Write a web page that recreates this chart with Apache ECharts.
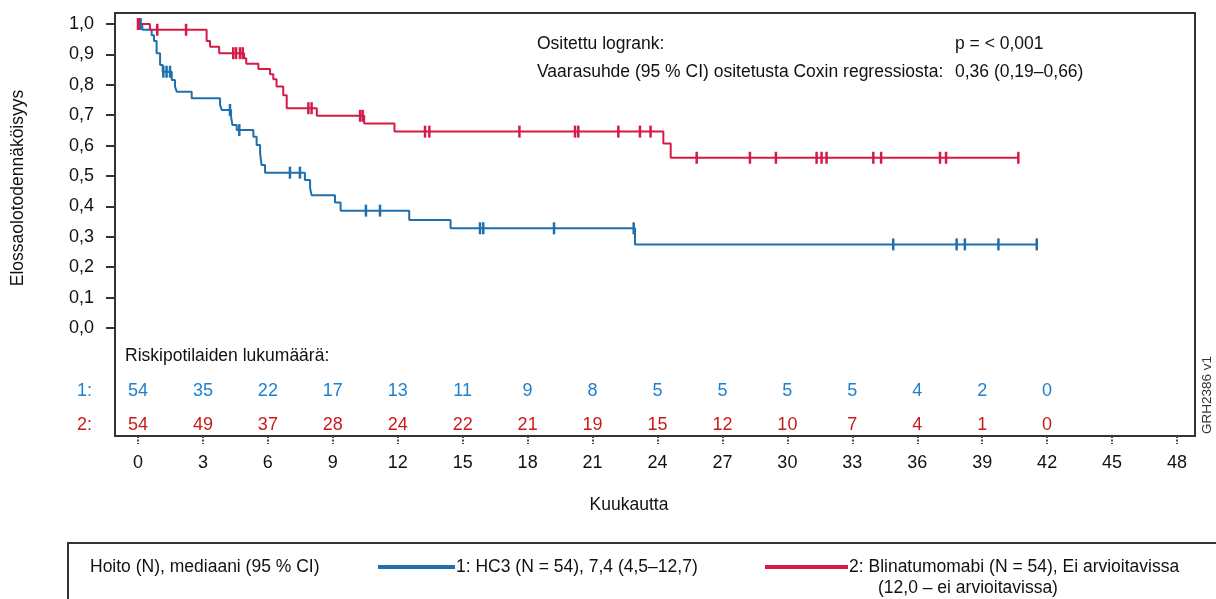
<!DOCTYPE html>
<html>
<head>
<meta charset="utf-8">
<script src="https://cdn.jsdelivr.net/npm/echarts@6/dist/echarts.min.js"></script>
<style>html,body{margin:0;padding:0;background:#fff;}#c{width:1216px;height:599px;}</style>
</head>
<body>
<div id="c"></div>
<script>
// ---- data ----
var xTicks = [0, 3, 6, 9, 12, 15, 18, 21, 24, 27, 30, 33, 36, 39, 42, 45, 48];
var yTicks = [0, 0.1, 0.2, 0.3, 0.4, 0.5, 0.6, 0.7, 0.8, 0.9, 1.0];
var riskMonths = [0, 3, 6, 9, 12, 15, 18, 21, 24, 27, 30, 33, 36, 39, 42];
var risk1 = [54, 35, 22, 17, 13, 11, 9, 8, 5, 5, 5, 5, 4, 2, 0];
var risk2 = [54, 49, 37, 28, 24, 22, 21, 19, 15, 12, 10, 7, 4, 1, 0];

// Kaplan-Meier step points [month, survival] (HC3)
var hc3Curve = [
  [0, 1.0], [0.2, 0.981], [0.63, 0.963], [0.74, 0.944], [0.86, 0.904], [1.02, 0.865],
  [1.14, 0.843], [1.56, 0.816], [1.71, 0.794], [1.79, 0.777], [2.48, 0.756],
  [3.79, 0.734], [3.87, 0.717], [4.3, 0.695], [4.36, 0.668], [4.56, 0.651],
  [5.33, 0.629], [5.48, 0.602], [5.64, 0.575], [5.71, 0.536], [5.87, 0.511],
  [7.71, 0.487], [7.95, 0.46], [8.02, 0.437], [9.10, 0.413], [9.36, 0.386],
  [12.53, 0.355], [14.44, 0.328], [22.96, 0.275], [41.52, 0.275]
];
var hc3Censor = [0.06, 0.12, 1.17, 1.32, 1.48, 4.25, 4.68, 7.02, 7.48, 10.53, 11.18,
  15.8, 15.95, 19.22, 22.9, 34.89, 37.82, 38.2, 39.75, 41.52];

// Kaplan-Meier step points (Blinatumomabi)
var blinaCurve = [
  [0, 1.0], [0.55, 0.981], [3.17, 0.944], [3.33, 0.925], [3.75, 0.904],
  [4.9, 0.887], [5.0, 0.869], [5.56, 0.852], [6.1, 0.835], [6.25, 0.818],
  [6.4, 0.794], [6.71, 0.766], [6.87, 0.723], [8.26, 0.698], [10.45, 0.673],
  [11.85, 0.646], [24.27, 0.607], [24.61, 0.56], [40.67, 0.56]
];
var blinaCensor = [0.0, 0.03, 0.89, 2.22, 4.40, 4.53, 4.71, 4.84, 7.87, 8.02, 10.26, 10.38,
  13.26, 13.46, 17.62, 20.19, 20.34, 22.19, 23.19, 23.68, 25.81, 28.27, 29.47,
  31.35, 31.58, 31.81, 33.97, 34.33, 37.05, 37.33, 40.67];

var seriesNames = ['1: HC3 (N = 54), 7,4 (4,5–12,7)', '2: Blinatumomabi (N = 54), Ei arvioitavissa'];

// ---- styles / layout ----
var BLUE = '#1f6fae', RED = '#d41a46', BLUE_T = '#1f80d0', RED_T = '#cc1a1a';
var FONT = 'Liberation Sans, Arial, sans-serif';
// frame: x 115..1195 px, y 13..436 px; month 0 at 138px, 48 at 1177px; surv 1 at 24px, 0 at 328px
var PX_PER_MONTH = (1177 - 138) / 48, PX_PER_UNIT = 328 - 24;
var X_MIN = -(138 - 115) / PX_PER_MONTH, X_MAX = 48 + (1195 - 1177) / PX_PER_MONTH;
var Y_MAX = 1 + (24 - 13) / PX_PER_UNIT, Y_MIN = -(436 - 328) / PX_PER_UNIT;

function survAt(curve, t) {
  var s = curve[0][1];
  for (var i = 0; i < curve.length; i++) { if (curve[i][0] <= t) s = curve[i][1]; }
  return s;
}
function censorPts(curve, times) { return times.map(function (t) { return [t, survAt(curve, t)]; }); }
function riskPts(vals, row) { return riskMonths.map(function (m, i) { return [m, row, vals[i]]; }); }

var chart = echarts.init(document.getElementById('c'), null, { renderer: 'canvas' });
var txt = function (text, x, y, opt) {
  opt = opt || {};
  return {
    type: 'text', x: x, y: y, rotation: opt.rotation || 0, z: 10,
    style: {
      text: text, fill: opt.color || '#111', font: (opt.size || 17.5) + 'px ' + FONT,
      align: opt.align || 'left', verticalAlign: 'middle',
      textAlign: opt.align || 'left', textVerticalAlign: 'middle'
    }
  };
};

chart.setOption({
  animation: false,
  textStyle: { fontFamily: FONT },
  grid: [
    { left: 115, right: 21, top: 13, bottom: 163, show: true, borderColor: '#333', borderWidth: 2, backgroundColor: 'transparent' },
    { left: 138, right: 39, top: 340, bottom: 163 }
  ],
  xAxis: [
    {
      gridIndex: 0, type: 'value', min: X_MIN, max: X_MAX, position: 'bottom',
      axisLine: { show: false, onZero: false },
      axisTick: { show: true, customValues: xTicks, length: 8, lineStyle: { color: '#444', width: 2, type: [2, 1.5] } },
      axisLabel: { customValues: xTicks, fontSize: 18, color: '#111', margin: 18 },
      splitLine: { show: false }
    },
    { gridIndex: 1, type: 'value', min: 0, max: 48, show: false }
  ],
  yAxis: [
    {
      gridIndex: 0, type: 'value', min: Y_MIN, max: Y_MAX, position: 'left',
      axisLine: { show: false, onZero: false },
      axisTick: { show: true, customValues: yTicks, length: 9, lineStyle: { color: '#333', width: 2 } },
      axisLabel: {
        customValues: yTicks, fontSize: 18, color: '#111', margin: 21,
        formatter: function (v) { return (Math.round(v * 10) / 10).toFixed(1).replace('.', ','); }
      },
      splitLine: { show: false }
    },
    { gridIndex: 1, type: 'value', min: 0, max: 96, inverse: true, show: false }
  ],
  series: [
    {
      name: seriesNames[0], type: 'line', step: 'end', xAxisIndex: 0, yAxisIndex: 0,
      data: hc3Curve, showSymbol: false, lineStyle: { color: BLUE, width: 2 }, itemStyle: { color: BLUE }, z: 3
    },
    {
      name: seriesNames[1], type: 'line', step: 'end', xAxisIndex: 0, yAxisIndex: 0,
      data: blinaCurve, showSymbol: false, lineStyle: { color: RED, width: 2 }, itemStyle: { color: RED }, z: 4
    },
    {
      name: seriesNames[0] + ' sensuroitu', type: 'scatter', xAxisIndex: 0, yAxisIndex: 0,
      data: censorPts(hc3Curve, hc3Censor), symbol: 'rect', symbolSize: [2.5, 12],
      itemStyle: { color: BLUE, opacity: 1 }, z: 5
    },
    {
      name: seriesNames[1] + ' sensuroitu', type: 'scatter', xAxisIndex: 0, yAxisIndex: 0,
      data: censorPts(blinaCurve, blinaCensor), symbol: 'rect', symbolSize: [2.5, 12],
      itemStyle: { color: RED, opacity: 1 }, z: 6
    },
    {
      name: 'risk1', type: 'scatter', xAxisIndex: 1, yAxisIndex: 1, data: riskPts(risk1, 51),
      symbolSize: 0, itemStyle: { color: BLUE_T, opacity: 1 },
      label: { show: true, position: 'inside', formatter: function (p) { return p.value[2]; }, fontSize: 18, color: BLUE_T, fontFamily: FONT }
    },
    {
      name: 'risk2', type: 'scatter', xAxisIndex: 1, yAxisIndex: 1, data: riskPts(risk2, 85),
      symbolSize: 0, itemStyle: { color: RED_T, opacity: 1 },
      label: { show: true, position: 'inside', formatter: function (p) { return p.value[2]; }, fontSize: 18, color: RED_T, fontFamily: FONT }
    }
  ],
  graphic: [
    txt('Elossaolotodennäköisyys', 18, 188, { rotation: Math.PI / 2, align: 'center' }),
    txt('Kuukautta', 629, 505, { align: 'center' }),
    txt('Ositettu logrank:', 537, 44),
    txt('p = < 0,001', 955, 44),
    txt('Vaarasuhde (95 % CI) ositetusta Coxin regressiosta:', 537, 72),
    txt('0,36 (0,19–0,66)', 955, 72),
    txt('Riskipotilaiden lukumäärä:', 125, 356),
    txt('1:', 77, 391, { color: BLUE_T, size: 18 }),
    txt('2:', 77, 425, { color: RED_T, size: 18 }),
    txt('GRH2386 v1', 1207, 395, { rotation: Math.PI / 2, align: 'center', size: 13.5, color: '#333' }),
    { type: 'rect', shape: { x: 68, y: 543, width: 1160, height: 80 }, style: { fill: 'none', stroke: '#333', lineWidth: 2 }, z: 9 },
    txt('Hoito (N), mediaani (95 % CI)', 90, 567),
    { type: 'line', shape: { x1: 378, y1: 567, x2: 455, y2: 567 }, style: { stroke: BLUE, lineWidth: 4 }, z: 10 },
    txt(seriesNames[0], 456, 567),
    { type: 'line', shape: { x1: 765, y1: 567, x2: 848, y2: 567 }, style: { stroke: RED, lineWidth: 4 }, z: 10 },
    txt(seriesNames[1], 849, 567),
    txt('(12,0 – ei arvioitavissa)', 878, 588)
  ]
});
</script>
</body>
</html>
